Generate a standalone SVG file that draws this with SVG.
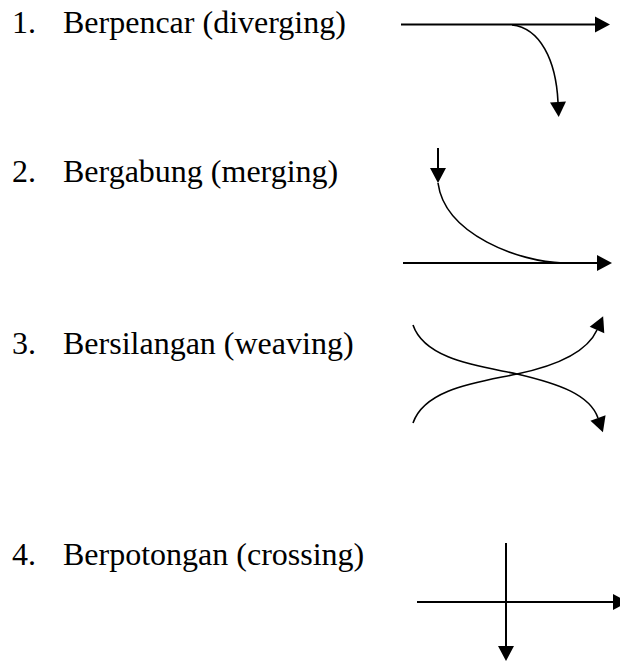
<svg xmlns="http://www.w3.org/2000/svg" width="620" height="661" viewBox="0 0 620 661">
<style>
.lbl{font-family:"Liberation Serif","Times New Roman",serif;font-size:32px;fill:#000}
.s{fill:none;stroke:#000;stroke-width:2}
.c{fill:none;stroke:#000;stroke-width:1.6}
</style>
<defs>
<marker id="ah" markerUnits="userSpaceOnUse" markerWidth="15" markerHeight="16" refX="0" refY="8" orient="auto" overflow="visible">
<path d="M0,0 L15,8 L0,16 z" fill="#000"/>
</marker>
</defs>
<rect width="620" height="661" fill="#fff"/>
<g id="item1"><text class="lbl" x="12" y="33">1.</text><text class="lbl" x="63" y="33">Berpencar (diverging)</text></g>
<g id="item2"><text class="lbl" x="12" y="182">2.</text><text class="lbl" x="63" y="182">Bergabung (merging)</text></g>
<g id="item3"><text class="lbl" x="12" y="354">3.</text><text class="lbl" x="63" y="354">Bersilangan (weaving)</text></g>
<g id="item4"><text class="lbl" x="12" y="565">4.</text><text class="lbl" x="63" y="565">Berpotongan (crossing)</text></g>
<g id="connectors">
<path class="s" d="M401,24.5 L595,24.5" marker-end="url(#ah)"/>
<path class="c" d="M512,25 C540,28 556,60 558,102" marker-end="url(#ah)"/>
<path class="s" d="M438,148 L438,168" marker-end="url(#ah)"/>
<path class="c" d="M438,183 C445,235 520,262 563,263"/>
<path class="s" d="M403,263 L597,263" marker-end="url(#ah)"/>
<path class="c" d="M413,325 C425,360 480,366 517,374 C560,384 590,395 598,418" marker-end="url(#ah)"/>
<path class="c" d="M413,423 C425,388 480,382 517,374 C560,365 588,350 597,330" marker-end="url(#ah)"/>
<path class="s" d="M506,543 L506,646" marker-end="url(#ah)"/>
<path class="s" d="M417,602 L613,602" marker-end="url(#ah)"/>
</g>
</svg>
